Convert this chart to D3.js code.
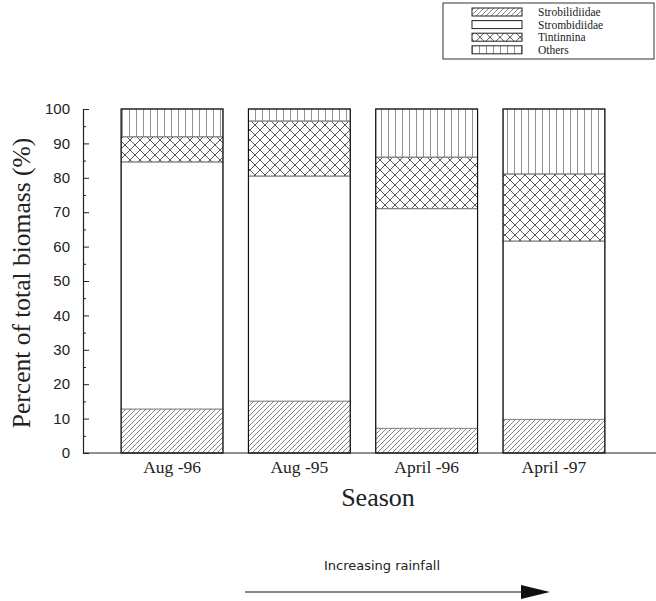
<!DOCTYPE html>
<html>
<head>
<meta charset="utf-8">
<script src="https://cdn.jsdelivr.net/npm/d3@7"></script>
<style>
  body { margin: 0; background: #fff; }
  svg { display: block; }
</style>
</head>
<body>
<svg id="chart" width="656" height="601"></svg>
<script>
// data (percent of total biomass per group)
const seasons = ["Aug -96", "Aug -95", "April -96", "April -97"];
const groups = ["Strobilidiidae", "Strombidiidae", "Tintinnina", "Others"];
const strobilidiidae = [12.8, 15.1, 7.2, 9.8];
const strombidiidae = [71.8, 65.4, 63.8, 51.8];
const tintinnina = [7.3, 16.0, 15.0, 19.5];
const others = [8.1, 3.5, 14.0, 18.9];
const y_ticks = [0, 10, 20, 30, 40, 50, 60, 70, 80, 90, 100];

const rows = seasons.map((s, i) => ({
    season: s,
    Strobilidiidae: strobilidiidae[i],
    Strombidiidae: strombidiidae[i],
    Tintinnina: tintinnina[i],
    Others: others[i]
}));

const svg = d3.select("#chart");
const defs = svg.append("defs");

// fill patterns
const pat_hatch = defs.append("pattern")
    .attr("id", "p_hatch").attr("patternUnits", "userSpaceOnUse")
    .attr("width", 5).attr("height", 5);
pat_hatch.append("path")
    .attr("d", "M-1,1 l2,-2 M0,5 l5,-5 M4,6 l2,-2")
    .attr("stroke", "#666").attr("stroke-width", 0.8);

const pat_cross = defs.append("pattern")
    .attr("id", "p_cross").attr("patternUnits", "userSpaceOnUse")
    .attr("width", 10).attr("height", 10);
pat_cross.append("path")
    .attr("d", "M0,0 L10,10 M10,0 L0,10")
    .attr("stroke", "#444").attr("stroke-width", 0.9);

const pat_vert = defs.append("pattern")
    .attr("id", "p_vert").attr("patternUnits", "userSpaceOnUse")
    .attr("width", 7).attr("height", 7);
pat_vert.append("path")
    .attr("d", "M3.5,0 L3.5,7")
    .attr("stroke", "#777").attr("stroke-width", 0.8);

const fills = {
    Strobilidiidae: "url(#p_hatch)",
    Strombidiidae: "#fff",
    Tintinnina: "url(#p_cross)",
    Others: "url(#p_vert)"
};

const x = d3.scaleBand()
    .domain(seasons)
    .range([108.4, 617.6])
    .paddingInner(0.2)
    .paddingOuter(0.1);

const y = d3.scaleLinear()
    .domain([0, 100])
    .range([453, 109]);

const stacked = d3.stack().keys(groups)(rows);

// bars
svg.append("g")
    .selectAll("g")
    .data(stacked)
    .join("g")
    .attr("fill", d => fills[d.key])
    .selectAll("rect")
    .data(d => d)
    .join("rect")
    .attr("x", d => x(d.data.season))
    .attr("y", d => y(d[1]))
    .attr("width", x.bandwidth())
    .attr("height", d => y(d[0]) - y(d[1]))
    .attr("stroke", "#777")
    .attr("stroke-width", 0.8);

// bar outlines
svg.append("g")
    .selectAll("rect")
    .data(seasons)
    .join("rect")
    .attr("x", d => x(d))
    .attr("y", y(100))
    .attr("width", x.bandwidth())
    .attr("height", y(0) - y(100))
    .attr("fill", "none")
    .attr("stroke", "#111")
    .attr("stroke-width", 1.2);

// y axis, ticks pointing inward
const y_axis = svg.append("g")
    .attr("transform", "translate(83,0)")
    .call(d3.axisRight(y).tickValues(y_ticks).tickSize(6).tickFormat(""));
y_axis.select(".domain").attr("stroke", "#222").attr("stroke-width", 1.2);
y_axis.selectAll(".tick line").attr("stroke", "#222");

svg.append("g")
    .attr("transform", "translate(83,0)")
    .call(d3.axisRight(y).tickValues(d3.range(5, 100, 10)).tickSize(3).tickFormat(""))
    .call(g => g.select(".domain").remove())
    .selectAll(".tick line").attr("stroke", "#222");

svg.append("g")
    .selectAll("text")
    .data(y_ticks)
    .join("text")
    .attr("x", 70)
    .attr("y", d => y(d))
    .attr("dy", "0.35em")
    .attr("text-anchor", "end")
    .attr("font-family", "Liberation Sans, Arial, sans-serif")
    .attr("font-size", 15)
    .attr("fill", "#222")
    .text(d => d);

// x axis baseline
svg.append("line")
    .attr("x1", 83).attr("x2", 656)
    .attr("y1", y(0)).attr("y2", y(0))
    .attr("stroke", "#222").attr("stroke-width", 1.2);

svg.append("g")
    .selectAll("text")
    .data(seasons)
    .join("text")
    .attr("x", d => x(d) + x.bandwidth() / 2)
    .attr("y", 473)
    .attr("text-anchor", "middle")
    .attr("font-family", "Liberation Serif, Times New Roman, serif")
    .attr("font-size", 17.5)
    .attr("fill", "#222")
    .text(d => d);

// axis titles
svg.append("text")
    .attr("x", 378).attr("y", 506)
    .attr("text-anchor", "middle")
    .attr("font-family", "Liberation Serif, Times New Roman, serif")
    .attr("font-size", 26)
    .attr("fill", "#222")
    .text("Season");

svg.append("text")
    .attr("transform", "translate(30,283) rotate(-90)")
    .attr("text-anchor", "middle")
    .attr("font-family", "Liberation Serif, Times New Roman, serif")
    .attr("font-size", 25.5)
    .attr("fill", "#222")
    .text("Percent of total biomass (%)");

// rainfall arrow
svg.append("text")
    .attr("x", 382).attr("y", 570)
    .attr("text-anchor", "middle")
    .attr("font-family", "DejaVu Sans, sans-serif")
    .attr("font-size", 13)
    .attr("fill", "#222")
    .text("Increasing rainfall");

svg.append("line")
    .attr("x1", 245).attr("x2", 526)
    .attr("y1", 592).attr("y2", 592)
    .attr("stroke", "#888").attr("stroke-width", 2);
svg.append("path")
    .attr("d", "M521,585 L550,592 L521,599 Z")
    .attr("fill", "#111");

// legend
const legend = svg.append("g");
legend.append("rect")
    .attr("x", 443).attr("y", 3)
    .attr("width", 211).attr("height", 56)
    .attr("fill", "#fff")
    .attr("stroke", "#333").attr("stroke-width", 1);

const leg_items = legend.selectAll("g.item")
    .data(groups)
    .join("g")
    .attr("class", "item")
    .attr("transform", (d, i) => `translate(0,${12 + i * 12.6})`);

leg_items.append("rect")
    .attr("x", 472).attr("y", -4)
    .attr("width", 50).attr("height", 8)
    .attr("fill", d => fills[d])
    .attr("stroke", "#222").attr("stroke-width", 1);

leg_items.append("text")
    .attr("x", 538).attr("y", 0)
    .attr("dy", "0.35em")
    .attr("font-family", "Liberation Serif, Times New Roman, serif")
    .attr("font-size", 11.5)
    .attr("fill", "#222")
    .text(d => d);
</script>
</body>
</html>
